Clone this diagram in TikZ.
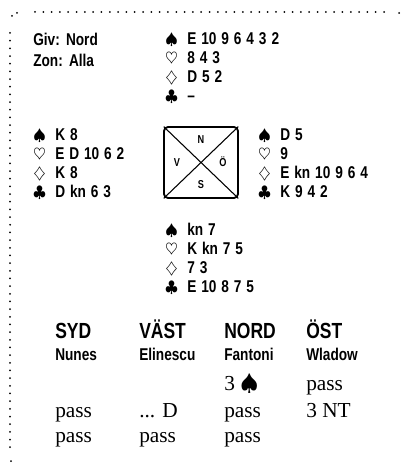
\documentclass[tikz,border=0pt]{standalone}
\usepackage{fontspec}
\usetikzlibrary{positioning}
\newfontfamily\condfont[FakeStretch=0.8,WordSpace=1.3]{Liberation Sans}
\newfontfamily\bidfont{Liberation Serif}
\newcommand{\suitbox}[1]{\makebox[16.5pt][l]{#1}}
\newcommand{\handrows}[4]{%
  \suitbox{$\spadesuit$}#1\\\suitbox{$\heartsuit$}#2\\%
  \suitbox{$\diamondsuit$}#3\\\suitbox{$\clubsuit$}#4}
\tikzset{
  hand/.style={inner sep=0pt, anchor=base west, align=left,
    font=\condfont\bfseries\fontsize{12.8}{14.25}\selectfont},
  info/.style={inner sep=0pt, anchor=base west, align=left,
    font=\condfont\bfseries\fontsize{12.8}{15.75}\selectfont},
  seat/.style={inner sep=0pt, anchor=base, font=\condfont\bfseries\fontsize{8.6}{10}\selectfont},
  tablebox/.style={draw, line width=1.4pt, rounded corners=3pt,
    minimum width=55.5pt, minimum height=53.25pt, inner sep=0pt},
  head/.style={inner sep=0pt, anchor=base west, font=\condfont\bfseries\fontsize{16.4}{19}\selectfont},
  player/.style={inner sep=0pt, anchor=base west, font=\condfont\bfseries\fontsize{12.8}{15}\selectfont},
  bid/.style={inner sep=0pt, anchor=base west, font=\bidfont\fontsize{16}{18}\selectfont},
  frame/.style={fill=black},
}
\begin{document}
\begin{tikzpicture}[x=0.75pt, y=-0.75pt]
\useasboundingbox (0,0) rectangle (400,466);

% dotted frame, top and left only
\foreach \i in {0,...,42}
  \fill[frame] (35+\i*8.31, 12) circle (0.75pt);
\foreach \i in {0,...,54}
  \fill[frame] (10, 33+\i*7.67) circle (0.75pt);
\fill[frame] (12,16) circle (0.75pt);
\fill[frame] (17,13) circle (0.75pt);
\fill[frame] (399,13) circle (0.75pt);
\fill[frame] (11,461) circle (0.75pt);

% deal info (base = last line)
\node[info] (deal) at (33,67) {Giv: Nord\\Zon: Alla};

% the four hands round the table (base = club line)
\node[hand] (north) at (165,101.5) {\handrows{E 10 9 6 4 3 2}{8 4 3}{D 5 2}{\textendash}};
\node[hand] (west) at (33,198) {\handrows{K 8}{E D 10 6 2}{K 8}{D kn 6 3}};
\node[hand] (east) at (258,198) {\handrows{D 5}{9}{E kn 10 9 6 4}{K 9 4 2}};
\node[hand] (south) at (165,292) {\handrows{kn 7}{K kn 7 5}{7 3}{E 10 8 7 5}};

% table with seats
\node[tablebox] (table) at (201,162.5) {};
\draw[line width=0.8pt, shorten <=0.6pt, shorten >=0.6pt] (table.north west) -- (table.south east);
\draw[line width=0.8pt, shorten <=0.6pt, shorten >=0.6pt] (table.south west) -- (table.north east);
\node[seat] (seatn) at (201,144) {N};
\node[seat] (seatv) at (177,167) {V};
\node[seat] (seato) at (223,167) {Ö};
\node[seat] (seats) at (201,189) {S};

% bidding
\node[head] (syd) at (55,338) {SYD};
\node[head] (vast) at (139,338) {VÄST};
\node[head] (nord) at (224,338) {NORD};
\node[head] (ost) at (306,338) {ÖST};
\node[player] (nunes) at (55,360) {Nunes};
\node[player] (elinescu) at (139,360) {Elinescu};
\node[player] (fantoni) at (224,360) {Fantoni};
\node[player] (wladow) at (306,360) {Wladow};

\node[bid] (b13) at (224,390) {3 $\spadesuit$};
\node[bid] (b14) at (306,390) {pass};
\node[bid] (b21) at (55,417) {pass};
\node[bid] (b22) at (139,417) {... D};
\node[bid] (b23) at (224,417) {pass};
\node[bid] (b24) at (306,417) {3 NT};
\node[bid] (b31) at (55,442) {pass};
\node[bid] (b32) at (139,442) {pass};
\node[bid] (b33) at (224,442) {pass};

\end{tikzpicture}
\end{document}
